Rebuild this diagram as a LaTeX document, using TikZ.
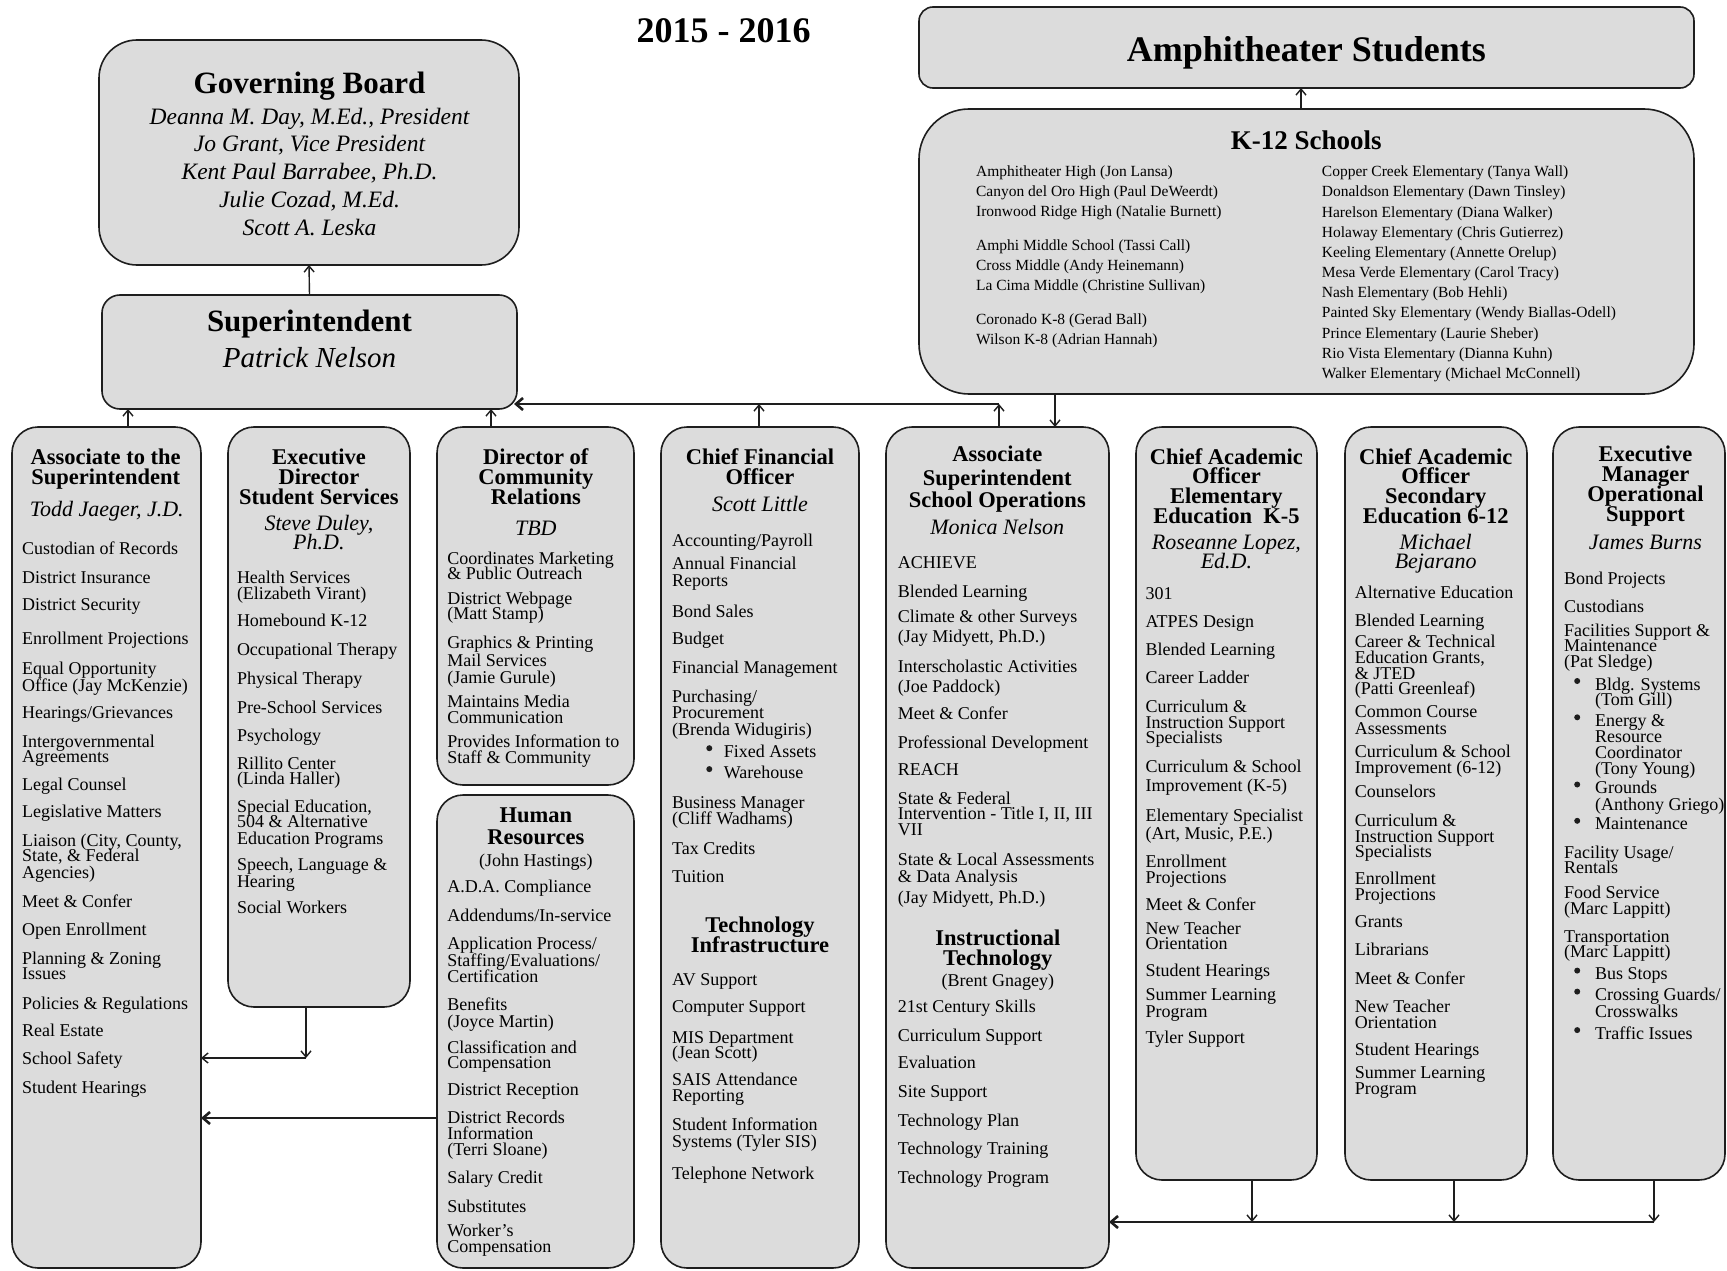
\documentclass[tikz,border=0pt]{standalone}
\usepackage{fontspec}
\setmainfont{Liberation Serif}
\usetikzlibrary{arrows.meta}
\definecolor{boxgray}{HTML}{DCDCDC}
\definecolor{edgec}{HTML}{1E1E1E}
\newcommand\Lines[4]{\foreach \yy/\txt [count=\k] in {#4} {\node[#2] (#1-\k) at (#3,\yy) {\txt};}}
\tikzset{
  box/.style={rectangle, draw=edgec, line width=1.6pt, fill=boxgray, rounded corners=26pt, inner sep=0pt, outer sep=0pt, anchor=north west},
  item/.style={anchor=west, inner sep=0pt, font=\fontsize{18}{18}\selectfont, text height=12.5pt, text depth=0.5pt},
  ttl/.style={anchor=center, inner sep=0pt, font=\bfseries\fontsize{22.5}{22.5}\selectfont, text height=16pt, text depth=2pt},
  nm/.style={anchor=center, inner sep=0pt, font=\itshape\fontsize{22}{22}\selectfont, text height=14pt, text depth=2pt},
  citem/.style={anchor=center, inner sep=0pt, font=\fontsize{18}{18}\selectfont, text height=12.5pt, text depth=0.5pt},
  sch/.style={anchor=west, inner sep=0pt, font=\fontsize{15.5}{15.5}\selectfont, text height=10.5pt, text depth=0.5pt},
  bigttl/.style={anchor=center, inner sep=0pt, font=\bfseries\fontsize{31}{31}\selectfont, text height=22pt, text depth=2pt},
  bignm/.style={anchor=center, inner sep=0pt, font=\itshape\fontsize{23.5}{23.5}\selectfont, text height=15pt, text depth=2pt},
  arr/.style={line width=1.4pt, draw=edgec, -{Straight Barb[length=6pt,width=10pt]}},
  arrT/.style={line width=2.6pt, draw=edgec, -{Straight Barb[length=7pt,width=12pt]}},
  bul/.style={fill=edgec}
}
\begin{document}
\begin{tikzpicture}[x=1pt,y=-1pt]
\useasboundingbox[fill=white] (0,0) rectangle (1727,1271);

% ---------- boxes ----------
\node[box, minimum width=420pt, minimum height=225pt, rounded corners=38pt] (gb) at (99,40) {};
\node[box, minimum width=415pt, minimum height=114pt, rounded corners=18pt] (supt) at (102,295) {};
\node[box, minimum width=775pt, minimum height=81pt, rounded corners=14pt] (amphi) at (919,7) {};
\node[box, minimum width=775pt, minimum height=285pt, rounded corners=50pt] (k12) at (919,109) {};
\node[box, minimum width=189pt, minimum height=841pt] (c1) at (12,427) {};
\node[box, minimum width=182pt, minimum height=580pt] (c2) at (228,427) {};
\node[box, minimum width=197pt, minimum height=358pt] (c3) at (437,427) {};
\node[box, minimum width=197pt, minimum height=473pt] (hr) at (437,795) {};
\node[box, minimum width=198pt, minimum height=841pt] (c4) at (661,427) {};
\node[box, minimum width=223pt, minimum height=841pt] (c5) at (886,427) {};
\node[box, minimum width=181pt, minimum height=753pt] (c6) at (1136,427) {};
\node[box, minimum width=182pt, minimum height=753pt] (c7) at (1345,427) {};
\node[box, minimum width=172pt, minimum height=753pt] (c8) at (1553,427) {};

% ---------- top texts ----------
\node[anchor=center, inner sep=0pt, font=\bfseries\fontsize{36}{36}\selectfont, text height=25pt, text depth=1pt] (year) at (723.6,30.8) {2015 - 2016};
\node[bigttl] (gbt) at (309.5,83.7) {Governing Board};
\Lines{gbn}{bignm}{309.5}{117.9/{Deanna M. Day, M.Ed., President},145.4/{Jo Grant, Vice President},172.9/{Kent Paul Barrabee, Ph.D.},200.5/{Julie Cozad, M.Ed.},229.1/{Scott A. Leska}}
\node[bigttl] (suptt) at (309.5,321.6) {Superintendent};
\node[anchor=center, inner sep=0pt, font=\itshape\fontsize{29}{29}\selectfont, text height=19pt, text depth=2pt] (suptn) at (309.5,359.1) {Patrick Nelson};
\node[anchor=center, inner sep=0pt, font=\bfseries\fontsize{36}{36}\selectfont, text height=25pt, text depth=2pt] (amphit) at (1306.3,49.6) {Amphitheater Students};
\node[anchor=center, inner sep=0pt, font=\bfseries\fontsize{27}{27}\selectfont, text height=19pt, text depth=2pt] (k12t) at (1306.3,141) {K-12 Schools};
\Lines{kl}{sch}{975.9}{171.8/{Amphitheater High (Jon Lansa)},191.6/{Canyon del Oro High (Paul DeWeerdt)},211.5/{Ironwood Ridge High (Natalie Burnett)},245.6/{Amphi Middle School (Tassi Call)},265.4/{Cross Middle (Andy Heinemann)},285.3/{La Cima Middle (Christine Sullivan)},319.4/{Coronado K-8 (Gerad Ball)},339.2/{Wilson K-8 (Adrian Hannah)}}
\Lines{kr}{sch}{1321.7}{171.8/{Copper Creek Elementary (Tanya Wall)},191.9/{Donaldson Elementary (Dawn Tinsley)},212.1/{Harelson Elementary (Diana Walker)},232.2/{Holaway Elementary (Chris Gutierrez)},252.4/{Keeling Elementary (Annette Orelup)},272.5/{Mesa Verde Elementary (Carol Tracy)},292.7/{Nash Elementary (Bob Hehli)},312.8/{Painted Sky Elementary (Wendy Biallas-Odell)},333.0/{Prince Elementary (Laurie Sheber)},353.1/{Rio Vista Elementary (Dianna Kuhn)},373.3/{Walker Elementary (Michael McConnell)}}

% ---------- column 1 ----------
\Lines{c1t}{ttl}{105.7}{457.2/{Associate to the},477.2/{Superintendent}}
\node[nm] (c1n) at (106.8,510) {Todd Jaeger, J.D.};
\Lines{c1i}{item}{22}{548.5/{Custodian of Records},577.1/{District Insurance},604.7/{District Security},638.8/{Enrollment Projections},668.5/{Equal Opportunity},685.1/{Office (Jay McKenzie)},712.6/{Hearings/Grievances},741.2/{Intergovernmental},756.7/{Agreements},784.2/{Legal Counsel},811.7/{Legislative Matters},840.4/{Liaison (City, County,},855.8/{State, \& Federal},872.3/{Agencies)},901.0/{Meet \& Confer},929.6/{Open Enrollment},958.2/{Planning \& Zoning},973.6/{Issues},1003.4/{Policies \& Regulations},1030.9/{Real Estate},1058.4/{School Safety},1087.1/{Student Hearings}}

% ---------- column 2 ----------
\Lines{c2t}{ttl}{318.9}{457.2/{Executive},477.2/{Director},497.2/{Student Services}}
\Lines{c2n}{nm}{318.9}{524.3/{Steve Duley,},543/{Ph.D.}}
\Lines{c2i}{item}{236.8}{577.1/{Health Services},593.7/{(Elizabeth Virant)},620.1/{Homebound K-12},649.8/{Occupational Therapy},678.5/{Physical Therapy},707.1/{Pre-School Services},735.7/{Psychology},763.3/{Rillito Center},778.7/{(Linda Haller)},806.2/{Special Education,},821.6/{504 \& Alternative},838.2/{Education Programs},864.6/{Speech, Language \&},881.1/{Hearing},907.6/{Social Workers}}

% ---------- column 3 ----------
\Lines{c3t}{ttl}{535.8}{457.2/{Director of},477.2/{Community},497.2/{Relations}}
\node[nm] (c3n) at (535.8,529.8) {TBD};
\Lines{c3i}{item}{447.2}{558.4/{Coordinates Marketing},573.8/{\& Public Outreach},598.1/{District Webpage},613.5/{(Matt Stamp)},642.1/{Graphics \& Printing},660.8/{Mail Services},677.4/{(Jamie Gurule)},701.6/{Maintains Media},717.0/{Communication},741.2/{Provides Information to},757.8/{Staff \& Community}}

% ---------- human resources ----------
\Lines{hrt}{ttl}{535.8}{815.0/{Human},837.1/{Resources}}
\node[citem] (hrn) at (535.8,860.2) {(John Hastings)};
\Lines{hri}{item}{447.2}{886.6/{A.D.A. Compliance},915.3/{Addendums/In-service},943.9/{Application Process/},960.4/{Staffing/Evaluations/},976.9/{Certification},1004.5/{Benefits},1021.0/{(Joyce Martin)},1047.4/{Classification and},1062.9/{Compensation},1089.3/{District Reception},1117.9/{District Records},1133.3/{Information},1149.9/{(Terri Sloane)},1177.4/{Salary Credit},1206.0/{Substitutes},1230.3/{Worker’s},1246.8/{Compensation}}

% ---------- column 4 ----------
\Lines{c4t}{ttl}{760}{457.2/{Chief Financial},477.2/{Officer}}
\node[nm] (c4n) at (760,505.5) {Scott Little};
\Lines{c4i}{item}{671.9}{540.8/{Accounting/Payroll},563.9/{Annual Financial},580.4/{Reports},611.3/{Bond Sales},638.8/{Budget},667.4/{Financial Management},696.1/{Purchasing/},712.6/{Procurement},729.1/{(Brenda Widugiris)},802.9/{Business Manager},818.3/{(Cliff Wadhams)},848.1/{Tax Credits},876.7/{Tuition}}
\Lines{c4b}{item}{723.6}{751.2/{Fixed Assets},772.1/{Warehouse}}
\foreach \yy in {751.2,772.1} {\fill[bul] (709.3,\yy-3) circle (3pt);}
\Lines{c4s}{ttl}{760}{925.2/{Technology},945.0/{Infrastructure}}
\Lines{c4j}{item}{671.9}{979.1/{AV Support},1006.7/{Computer Support},1037.5/{MIS Department},1052.9/{(Jean Scott)},1079.4/{SAIS Attendance},1095.9/{Reporting},1124.5/{Student Information},1141.0/{Systems (Tyler SIS)},1173.0/{Telephone Network}}

% ---------- column 5 ----------
\Lines{c5t}{ttl}{997.3}{454.9/{Associate},478.0/{Superintendent},500.0/{School Operations}}
\node[nm] (c5n) at (997.3,528.7) {Monica Nelson};
\Lines{c5i}{item}{897.6}{562.8/{ACHIEVE},591.5/{Blended Learning},616.8/{Climate \& other Surveys},636.6/{(Jay Midyett, Ph.D.)},666.3/{Interscholastic Activities},686.2/{(Joe Paddock)},713.7/{Meet \& Confer},742.3/{Professional Development},769.9/{REACH},798.5/{State \& Federal},813.9/{Intervention - Title I, II, III},829.4/{VII},859.1/{State \& Local Assessments},876.7/{\& Data Analysis},897.6/{(Jay Midyett, Ph.D.)}}
\Lines{c5s}{ttl}{997.8}{938.4/{Instructional},958.2/{Technology}}
\node[citem] (c5sn) at (997.8,980.2) {(Brent Gnagey)};
\Lines{c5j}{item}{897.6}{1006.7/{21st Century Skills},1035.3/{Curriculum Support},1062.9/{Evaluation},1091.5/{Site Support},1120.1/{Technology Plan},1148.8/{Technology Training},1177.4/{Technology Program}}

% ---------- column 6 ----------
\Lines{c6t}{ttl}{1226.4}{457.1/{Chief Academic},476.9/{Officer},496.7/{Elementary},516.5/{Education~ K-5}}
\Lines{c6n}{nm}{1226.4}{543.0/{Roseanne Lopez,},562.8/{Ed.D.}}
\Lines{c6i}{item}{1145.5}{593.7/{301},621.2/{ATPES Design},649.8/{Blended Learning},677.4/{Career Ladder},706.0/{Curriculum \&},722.5/{Instruction Support},737.9/{Specialists},766.6/{Curriculum \& School},785.3/{Improvement (K-5)},815.0/{Elementary Specialist},833.8/{(Art, Music, P.E.)},861.3/{Enrollment},877.8/{Projections},904.2/{Meet \& Confer},928.5/{New Teacher},943.9/{Orientation},970.3/{Student Hearings},994.6/{Summer Learning},1011.1/{Program},1037.5/{Tyler Support}}

% ---------- column 7 ----------
\Lines{c7t}{ttl}{1435.7}{457.1/{Chief Academic},476.9/{Officer},496.7/{Secondary},516.5/{Education 6-12}}
\Lines{c7n}{nm}{1435.7}{543.0/{Michael},562.8/{Bejarano}}
\Lines{c7i}{item}{1354.7}{592.6/{Alternative Education},620.1/{Blended Learning},641.0/{Career \& Technical},657.5/{Education Grants,},673.0/{\& JTED},688.4/{(Patti Greenleaf)},711.5/{Common Course},728.0/{Assessments},751.2/{Curriculum \& School},767.7/{Improvement (6-12)},791.9/{Counselors},820.5/{Curriculum \&},836.0/{Instruction Support},851.4/{Specialists},878.9/{Enrollment},894.3/{Projections},921.9/{Grants},949.4/{Librarians},978.0/{Meet \& Confer},1006.7/{New Teacher},1022.1/{Orientation},1049.6/{Student Hearings},1072.8/{Summer Learning},1088.2/{Program}}

% ---------- column 8 ----------
\Lines{c8t}{ttl}{1645.5}{454.9/{Executive},474.7/{Manager},494.5/{Operational},514.4/{Support}}
\node[nm] (c8n) at (1645.5,543.0) {James Burns};
\Lines{c8i}{item}{1564}{578.2/{Bond Projects},606.9/{Custodians},630.0/{Facilities Support \&},645.4/{Maintenance},661.9/{(Pat Sledge)},852.5/{Facility Usage/},867.9/{Rentals},892.1/{Food Service},908.7/{(Marc Lappitt)},936.2/{Transportation},951.6/{(Marc Lappitt)}}
\Lines{c8b}{item}{1594.8}{684.0/{Bldg. Systems},699.4/{(Tom Gill)},720.3/{Energy \&},736.8/{Resource},752.3/{Coordinator},768.8/{(Tony Young)},787.5/{Grounds},804.0/{(Anthony Griego)},823.8/{Maintenance},973.6/{Bus Stops},994.6/{Crossing Guards/},1011.1/{Crosswalks},1033.1/{Traffic Issues}}
\foreach \yy in {684.0,720.3,787.5,823.8,973.6,994.6,1033.1} {\fill[bul] (1577.2,\yy-3) circle (3pt);}

% ---------- connectors ----------
\coordinate (xa) at (1301,0);
\coordinate (x1) at (128,0);
\coordinate (x3) at (491,0);
\coordinate (x4) at (759,0);
\coordinate (x5) at (999,0);
\coordinate (xk) at (1055,0);
\coordinate (j2) at (306,1058);
\coordinate (x6) at (1252,0);
\coordinate (x7) at (1454,0);
\coordinate (x8) at (1654,0);
\coordinate (yh) at (0,404);
\coordinate (yr) at (0,1118);
\coordinate (yb) at (0,1222);

\draw[arr] (supt.north) -- (gb.south);
\draw[arr] (k12.north -| xa) -- (amphi.south -| xa);
\draw[arr] (c1.north -| x1) -- (supt.south -| x1);
\draw[arr] (c3.north -| x3) -- (supt.south -| x3);
\draw[arr] (c4.north -| x4) -- (yh -| x4);
\draw[arr] (c5.north -| x5) -- (yh -| x5);
\draw[arrT] (yh -| x5) -- ([xshift=-3pt]yh -| supt.east);
\draw[arr] (k12.south -| xk) -- (c5.north -| xk);
\draw[arr] (c2.south -| j2) -- (j2);
\draw[arr] (j2) -- (c1.east |- j2);
\draw[arrT] (hr.west |- yr) -- (c1.east |- yr);
\draw[arr] (c6.south -| x6) -- (yb -| x6);
\draw[arr] (c7.south -| x7) -- (yb -| x7);
\draw[arr] (c8.south -| x8) -- (yb -| x8);
\draw[arrT] (yb -| x8) -- (c5.east |- yb);
\end{tikzpicture}
\end{document}
